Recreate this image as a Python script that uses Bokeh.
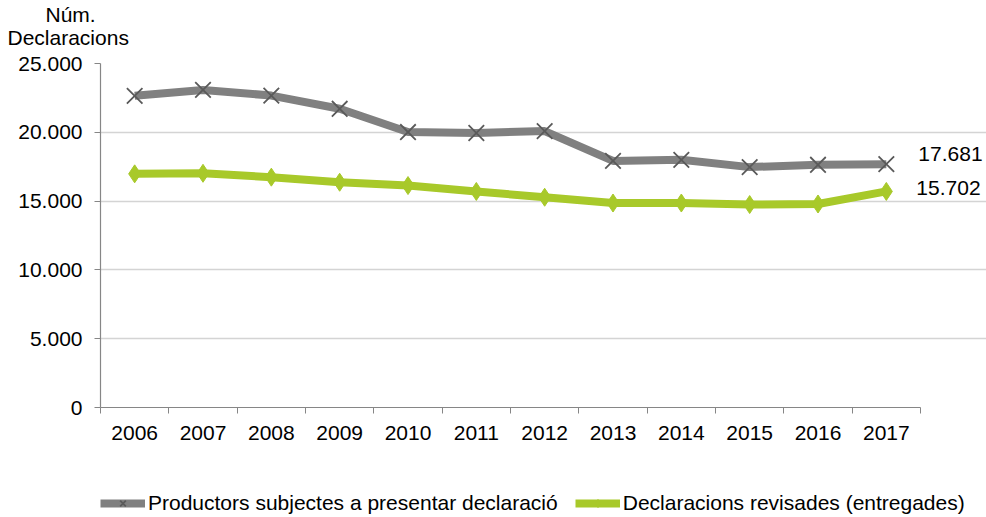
from bokeh.plotting import figure
from bokeh.layouts import column
from bokeh.models import FixedTicker, Label, Legend, LegendItem, Range1d, CustomJSTickFormatter, Title
from bokeh.embed import file_html
from bokeh.resources import INLINE

years = [2006, 2007, 2008, 2009, 2010, 2011, 2012, 2013, 2014, 2015, 2016, 2017]
productors = [22650, 23080, 22670, 21710, 20020, 19950, 20090, 17920, 18000, 17470, 17640, 17681]
revisades = [16980, 17020, 16740, 16370, 16130, 15700, 15280, 14860, 14860, 14750, 14790, 15702]
y_ticks = [0, 5000, 10000, 15000, 20000, 25000]
series_names = ["Productors subjectes a presentar declaració", "Declaracions revisades (entregades)"]
y_title = ["Núm.", "Declaracions"]

FONT = "Liberation Sans"
FS = "21px"
GRAY = "#808080"
MARK = "#5a5a5a"
GREEN = "#a8c92a"
W = 986

x_lo, x_hi = years[0] - 0.5, years[-1] + 0.5
x_extra = 66 / ((920 - 100) / len(years))  # room on the right for the value labels

def strip(h):
    f = figure(width=W, height=h, output_backend="svg", toolbar_location=None,
               x_range=Range1d(0, 1), y_range=Range1d(0, 1), x_axis_type=None, y_axis_type=None,
               min_border_left=0, min_border_right=0, min_border_top=0, min_border_bottom=0)
    f.outline_line_color = None
    f.grid.visible = False
    return f

# ---- top strip: y-axis title, two lines in side panels (not clipped)
top = strip(52)
top.title.text = y_title[0]
top.title.align = "left"
top.title.offset = -55
top.title.vertical_align = "bottom"
top.title.standoff = 0
top.title.text_font = FONT
top.title.text_font_size = FS
top.title.text_font_style = "normal"
top.title.text_color = "#000000"
top.add_layout(Title(text=y_title[1], align="left", offset=-93, vertical_align="top", standoff=0,
                     text_font=FONT, text_font_size=FS, text_font_style="normal",
                     text_color="#000000"), "above")

# ---- main chart
p = figure(width=W, height=425, output_backend="svg", toolbar_location=None,
           x_range=Range1d(x_lo, x_hi + x_extra), y_range=Range1d(0, 25000),
           min_border_left=100, min_border_right=0, min_border_top=11, min_border_bottom=70)
p.outline_line_color = None
p.background_fill_color = "white"
p.border_fill_color = "white"

p.xaxis.bounds = (x_lo, x_hi)
p.xaxis.ticker = FixedTicker(ticks=years, minor_ticks=[y - 0.5 for y in years] + [x_hi])
p.xaxis.major_label_overrides = {y: str(y) for y in years}
p.xaxis.major_tick_out = 0
p.xaxis.major_tick_in = 0
p.xaxis.minor_tick_out = 6
p.xaxis.minor_tick_in = 0
p.xaxis.minor_tick_line_color = "#868686"
p.xaxis.axis_line_color = "#868686"
p.xaxis.axis_line_width = 1.2
p.xaxis.major_label_text_font = FONT
p.xaxis.major_label_text_font_size = FS
p.xaxis.major_label_text_color = "#000000"
p.xaxis.major_label_standoff = 12

p.yaxis.ticker = FixedTicker(ticks=y_ticks, minor_ticks=[])
p.yaxis.formatter = CustomJSTickFormatter(code="""
    return tick.toString().replace(/\\B(?=(\\d{3})+(?!\\d))/g, '.');
""")
p.yaxis.major_tick_out = 6
p.yaxis.major_tick_in = 0
p.yaxis.major_tick_line_color = "#868686"
p.yaxis.axis_line_color = "#868686"
p.yaxis.axis_line_width = 1.2
p.yaxis.major_label_text_font = FONT
p.yaxis.major_label_text_font_size = FS
p.yaxis.major_label_text_color = "#000000"
p.yaxis.major_label_standoff = 12

p.xgrid.grid_line_color = None
p.ygrid.ticker = FixedTicker(ticks=y_ticks[1:])
p.ygrid.bounds = (x_lo, x_hi)
p.ygrid.grid_line_color = "#d4d4d4"
p.ygrid.grid_line_width = 1.5

p.line(years, productors, line_color=GRAY, line_width=8)
p.scatter(years, productors, marker="x", size=22, line_color=MARK, line_width=1.8)
p.line(years, revisades, line_color=GREEN, line_width=8)
p.scatter(years, revisades, marker="diamond", size=18, fill_color=GREEN, line_color=GREEN)

def fmt(v):
    return f"{v:,}".replace(",", ".")

p.add_layout(Label(x=years[-1], y=productors[-1], text=fmt(productors[-1]), x_offset=32, y_offset=10,
                   text_font=FONT, text_font_size=FS, text_baseline="middle", text_align="left",
                   text_color="#000000"))
p.add_layout(Label(x=years[-1], y=revisades[-1], text=fmt(revisades[-1]), x_offset=30, y_offset=3,
                   text_font=FONT, text_font_size=FS, text_baseline="middle", text_align="left",
                   text_color="#000000"))

# ---- legend strip below the chart
lg = strip(40)
# legend swatches: styled renderers whose points lie outside the strip's ranges
d1 = lg.line([5, 6], [5, 5], line_color=GRAY, line_width=8)
e1 = lg.scatter([5], [5], marker="x", size=22, line_color=MARK, line_width=1.8)
d2 = lg.line([5, 6], [5, 5], line_color=GREEN, line_width=8)
e2 = lg.scatter([5], [5], marker="diamond", size=18, fill_color=GREEN, line_color=GREEN)
legend = Legend(items=[LegendItem(label=series_names[0], renderers=[d1, e1]),
                       LegendItem(label=series_names[1], renderers=[d2, e2])],
                orientation="horizontal", location=(0, 2),
                glyph_width=45, glyph_height=20, label_standoff=3, spacing=17,
                padding=0, margin=0, border_line_color=None, background_fill_alpha=0,
                label_text_font=FONT, label_text_font_size=FS, label_text_color="#000000")
lg.add_layout(legend, "center")

layout = column(top, p, lg, spacing=0)
open("out.html", "w").write(file_html(layout, INLINE))
